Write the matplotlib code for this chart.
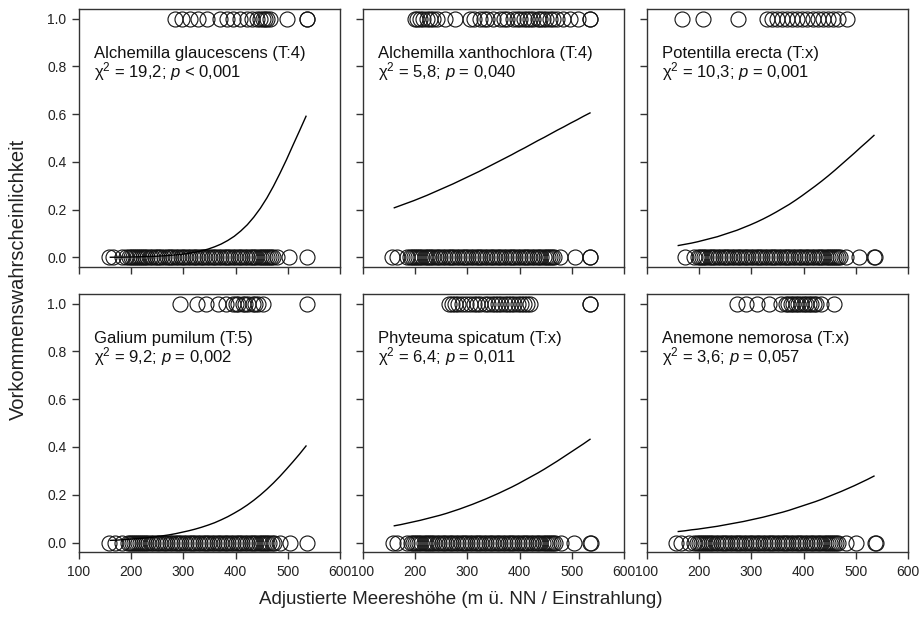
import numpy as np
import matplotlib
matplotlib.use("Agg")
from matplotlib import pyplot as plt

plt.rcParams['font.family'] = ['Liberation Sans', 'DejaVu Sans']
plt.rcParams['mathtext.fontset'] = 'custom'
plt.rcParams['mathtext.rm'] = 'Liberation Sans'
plt.rcParams['mathtext.it'] = 'Liberation Sans:italic'
plt.rcParams['mathtext.bf'] = 'Liberation Sans:bold'

# Arten, Tests
arten = ['Alchemilla glaucescens (T:4)', 'Alchemilla xanthochlora (T:4)', 'Potentilla erecta (T:x)',
         'Galium pumilum (T:5)', 'Phyteuma spicatum (T:x)', 'Anemone nemorosa (T:x)']
chi2 = ['19,2', '5,8', '10,3', '9,2', '6,4', '3,6']
p_txt = ['< 0,001', '= 0,040', '= 0,001', '= 0,002', '= 0,011', '= 0,057']

# Beobachtungen (Meereshoehe) - fehlend (0) / vorhanden (1)
abw_1 = [157, 165, 182, 190, 195, 199, 203, 207, 211, 215, 219, 223, 227, 231, 236, 240, 245, 249, 254, 258,
         263, 268, 272, 277, 281, 286, 290, 295, 299, 304, 308, 313, 318, 322, 327, 331, 336, 340, 345, 349,
         354, 358, 363, 368, 372, 377, 381, 386, 390, 395, 399, 404, 408, 413, 418, 422, 427, 431, 436, 440,
         444, 448, 452, 456, 460, 464, 468, 471, 480, 503, 537]
anw_1 = [284, 297, 313, 328, 345, 370, 383, 395, 408, 422, 431, 441, 447, 452, 456, 460, 466, 498, 537, 537]

abw_2 = [156, 166, 185, 190, 194, 198, 202, 206, 210, 214, 218, 222, 226, 230, 235, 239, 244, 248, 253, 257,
         262, 266, 271, 275, 280, 284, 289, 293, 298, 302, 307, 311, 316, 320, 325, 329, 334, 338, 343, 347,
         352, 356, 361, 365, 370, 374, 379, 383, 388, 392, 397, 401, 406, 410, 415, 419, 424, 428, 433, 437,
         442, 446, 450, 454, 458, 462, 466, 477, 506, 535, 535]
anw_2 = [200, 204, 209, 215, 222, 228, 235, 242, 257, 276, 305, 312, 324, 331, 338, 349, 362, 370, 376, 387,
         395, 401, 408, 414, 420, 426, 435, 440, 445, 451, 458, 465, 472, 483, 497, 512, 535, 535]

abw_3 = [172, 190, 198, 202, 206, 210, 214, 218, 222, 227, 231, 236, 240, 245, 249, 254, 258, 263, 267, 272,
         276, 281, 285, 290, 294, 299, 303, 308, 312, 317, 321, 326, 330, 335, 339, 344, 348, 353, 357, 362,
         366, 371, 375, 380, 384, 389, 393, 398, 402, 407, 411, 416, 420, 425, 429, 434, 438, 443, 447, 451,
         455, 459, 463, 467, 470, 482, 506, 535, 537]
anw_3 = [167, 207, 274, 330, 339, 349, 359, 368, 378, 387, 397, 407, 418, 428, 437, 447, 456, 466, 483]

abw_4 = [158, 168, 183, 193, 197, 201, 205, 209, 213, 217, 221, 225, 229, 233, 238, 242, 247, 251, 256, 260,
         265, 269, 274, 278, 283, 287, 292, 296, 301, 305, 310, 314, 319, 323, 328, 332, 337, 341, 346, 350,
         355, 359, 364, 368, 373, 377, 382, 386, 391, 395, 400, 404, 409, 413, 418, 422, 427, 431, 436, 440,
         445, 449, 453, 457, 461, 465, 469, 473, 485, 504, 537]
anw_4 = [293, 326, 343, 366, 382, 395, 400, 405, 414, 419, 424, 433, 438, 443, 452, 537]

abw_5 = [157, 166, 184, 192, 196, 200, 204, 208, 212, 216, 220, 224, 228, 233, 237, 242, 246, 251, 255, 260,
         264, 269, 273, 278, 282, 287, 291, 296, 300, 305, 309, 314, 318, 323, 327, 332, 336, 341, 345, 350,
         354, 359, 363, 368, 372, 377, 381, 386, 390, 395, 399, 404, 408, 413, 417, 422, 426, 431, 435, 440,
         444, 448, 452, 456, 460, 464, 468, 480, 505, 535, 537]
anw_5 = [265, 270, 276, 283, 290, 297, 305, 312, 318, 325, 334, 340, 347, 353, 359, 365, 372, 378, 383, 390,
         397, 402, 408, 414, 420, 535, 535]

abw_6 = [156, 165, 180, 191, 195, 199, 203, 207, 211, 215, 219, 223, 227, 232, 236, 241, 245, 250, 254, 259,
         263, 268, 272, 277, 281, 286, 290, 295, 299, 304, 308, 313, 317, 322, 326, 331, 335, 340, 344, 349,
         353, 358, 362, 367, 371, 376, 380, 385, 389, 394, 398, 403, 407, 412, 416, 421, 425, 430, 434, 439,
         443, 447, 451, 455, 459, 463, 467, 481, 500, 537, 539]
anw_6 = [272, 290, 311, 334, 357, 366, 370, 376, 380, 385, 390, 395, 400, 405, 410, 414, 420, 424, 433, 458]

abwesend = [abw_1, abw_2, abw_3, abw_4, abw_5, abw_6]
anwesend = [anw_1, anw_2, anw_3, anw_4, anw_5, anw_6]

# Modellkurven
kurve_x = [160, 172.5, 185, 197.5, 210, 222.5, 235, 247.5, 260, 272.5, 285, 297.5, 310, 322.5, 335, 347.5,
           360, 372.5, 385, 397.5, 410, 422.5, 435, 447.5, 460, 472.5, 485, 497.5, 510, 522.5, 535]
kurve_1 = [0.0009, 0.0012, 0.0015, 0.0020, 0.0025, 0.0032, 0.0040, 0.0051, 0.0066, 0.0083, 0.0107, 0.0135,
           0.0173, 0.0219, 0.0279, 0.0352, 0.0448, 0.0563, 0.0711, 0.0887, 0.111, 0.137, 0.169, 0.206, 0.249,
           0.298, 0.352, 0.409, 0.470, 0.530, 0.591]
kurve_2 = [0.208, 0.218, 0.228, 0.238, 0.249, 0.260, 0.272, 0.284, 0.296, 0.308, 0.321, 0.334, 0.347, 0.360,
           0.374, 0.388, 0.402, 0.416, 0.430, 0.445, 0.459, 0.474, 0.489, 0.503, 0.518, 0.533, 0.547, 0.562,
           0.576, 0.591, 0.605]
kurve_3 = [0.050, 0.055, 0.060, 0.066, 0.073, 0.080, 0.087, 0.096, 0.105, 0.114, 0.125, 0.136, 0.148, 0.161,
           0.175, 0.190, 0.206, 0.222, 0.240, 0.259, 0.279, 0.299, 0.320, 0.342, 0.365, 0.389, 0.413, 0.437,
           0.462, 0.486, 0.511]
kurve_4 = [0.009, 0.010, 0.012, 0.014, 0.016, 0.018, 0.021, 0.024, 0.028, 0.032, 0.037, 0.043, 0.049, 0.056,
           0.064, 0.073, 0.083, 0.095, 0.108, 0.123, 0.139, 0.157, 0.177, 0.199, 0.223, 0.249, 0.277, 0.307,
           0.338, 0.370, 0.404]
kurve_5 = [0.070, 0.075, 0.081, 0.087, 0.093, 0.100, 0.107, 0.114, 0.122, 0.131, 0.140, 0.150, 0.160, 0.171,
           0.182, 0.194, 0.206, 0.219, 0.232, 0.246, 0.261, 0.276, 0.291, 0.307, 0.324, 0.341, 0.359, 0.377,
           0.395, 0.413, 0.432]
kurve_6 = [0.046, 0.049, 0.053, 0.056, 0.060, 0.064, 0.068, 0.073, 0.078, 0.083, 0.088, 0.094, 0.100, 0.106,
           0.113, 0.120, 0.127, 0.135, 0.144, 0.153, 0.162, 0.171, 0.181, 0.192, 0.203, 0.214, 0.226, 0.238,
           0.251, 0.264, 0.278]
kurven = [kurve_1, kurve_2, kurve_3, kurve_4, kurve_5, kurve_6]

x_ticks = [100, 200, 300, 400, 500, 600]
y_ticks = [0.0, 0.2, 0.4, 0.6, 0.8, 1.0]

fig = plt.figure(figsize=(9.22, 6.21), dpi=100)

lefts = [0.0857, 0.3937, 0.7017]
bottoms = [0.570, 0.111]
breite = 0.283
hoehe = 0.4155

grau = '#333333'
for i in range(6):
    zeile = i // 3
    spalte = i % 3
    ax = fig.add_axes([lefts[spalte], bottoms[zeile], breite, hoehe])

    ax.plot(abwesend[i], [0] * len(abwesend[i]), 'o', ms=10.8, mfc='none', mec='#111111', mew=0.8)
    ax.plot(anwesend[i], [1] * len(anwesend[i]), 'o', ms=10.8, mfc='none', mec='#111111', mew=0.8)
    ax.plot(kurve_x, kurven[i], color='black', lw=1.0)

    ax.set_xlim(100, 600)
    ax.set_ylim(-0.04, 1.04)
    ax.set_xticks(x_ticks)
    ax.set_yticks(y_ticks)
    ax.tick_params(direction='out', length=5, width=1, color=grau, labelsize=10, labelcolor='#222222', pad=4)
    if zeile == 0:
        ax.set_xticklabels([])
    if spalte != 0:
        ax.set_yticklabels([])
    for s in ax.spines.values():
        s.set_color(grau)
        s.set_linewidth(1)

    ax.text(128, 0.835, arten[i], fontsize=12, color='#111111')
    ax.text(128, 0.752, r'$\mathrm{χ}^2$ = ' + chi2[i] + '; $p$ ' + p_txt[i], fontsize=12, color='#111111')

fig.text(0.5, 0.034, 'Adjustierte Meereshöhe (m ü. NN / Einstrahlung)', ha='center', va='center',
         fontsize=13.5, color='#222222')
fig.text(0.02, 0.55, 'Vorkommenswahrscheinlichkeit', ha='center', va='center', rotation=90,
         fontsize=14.5, color='#222222')

plt.savefig('out.png', dpi=100)
